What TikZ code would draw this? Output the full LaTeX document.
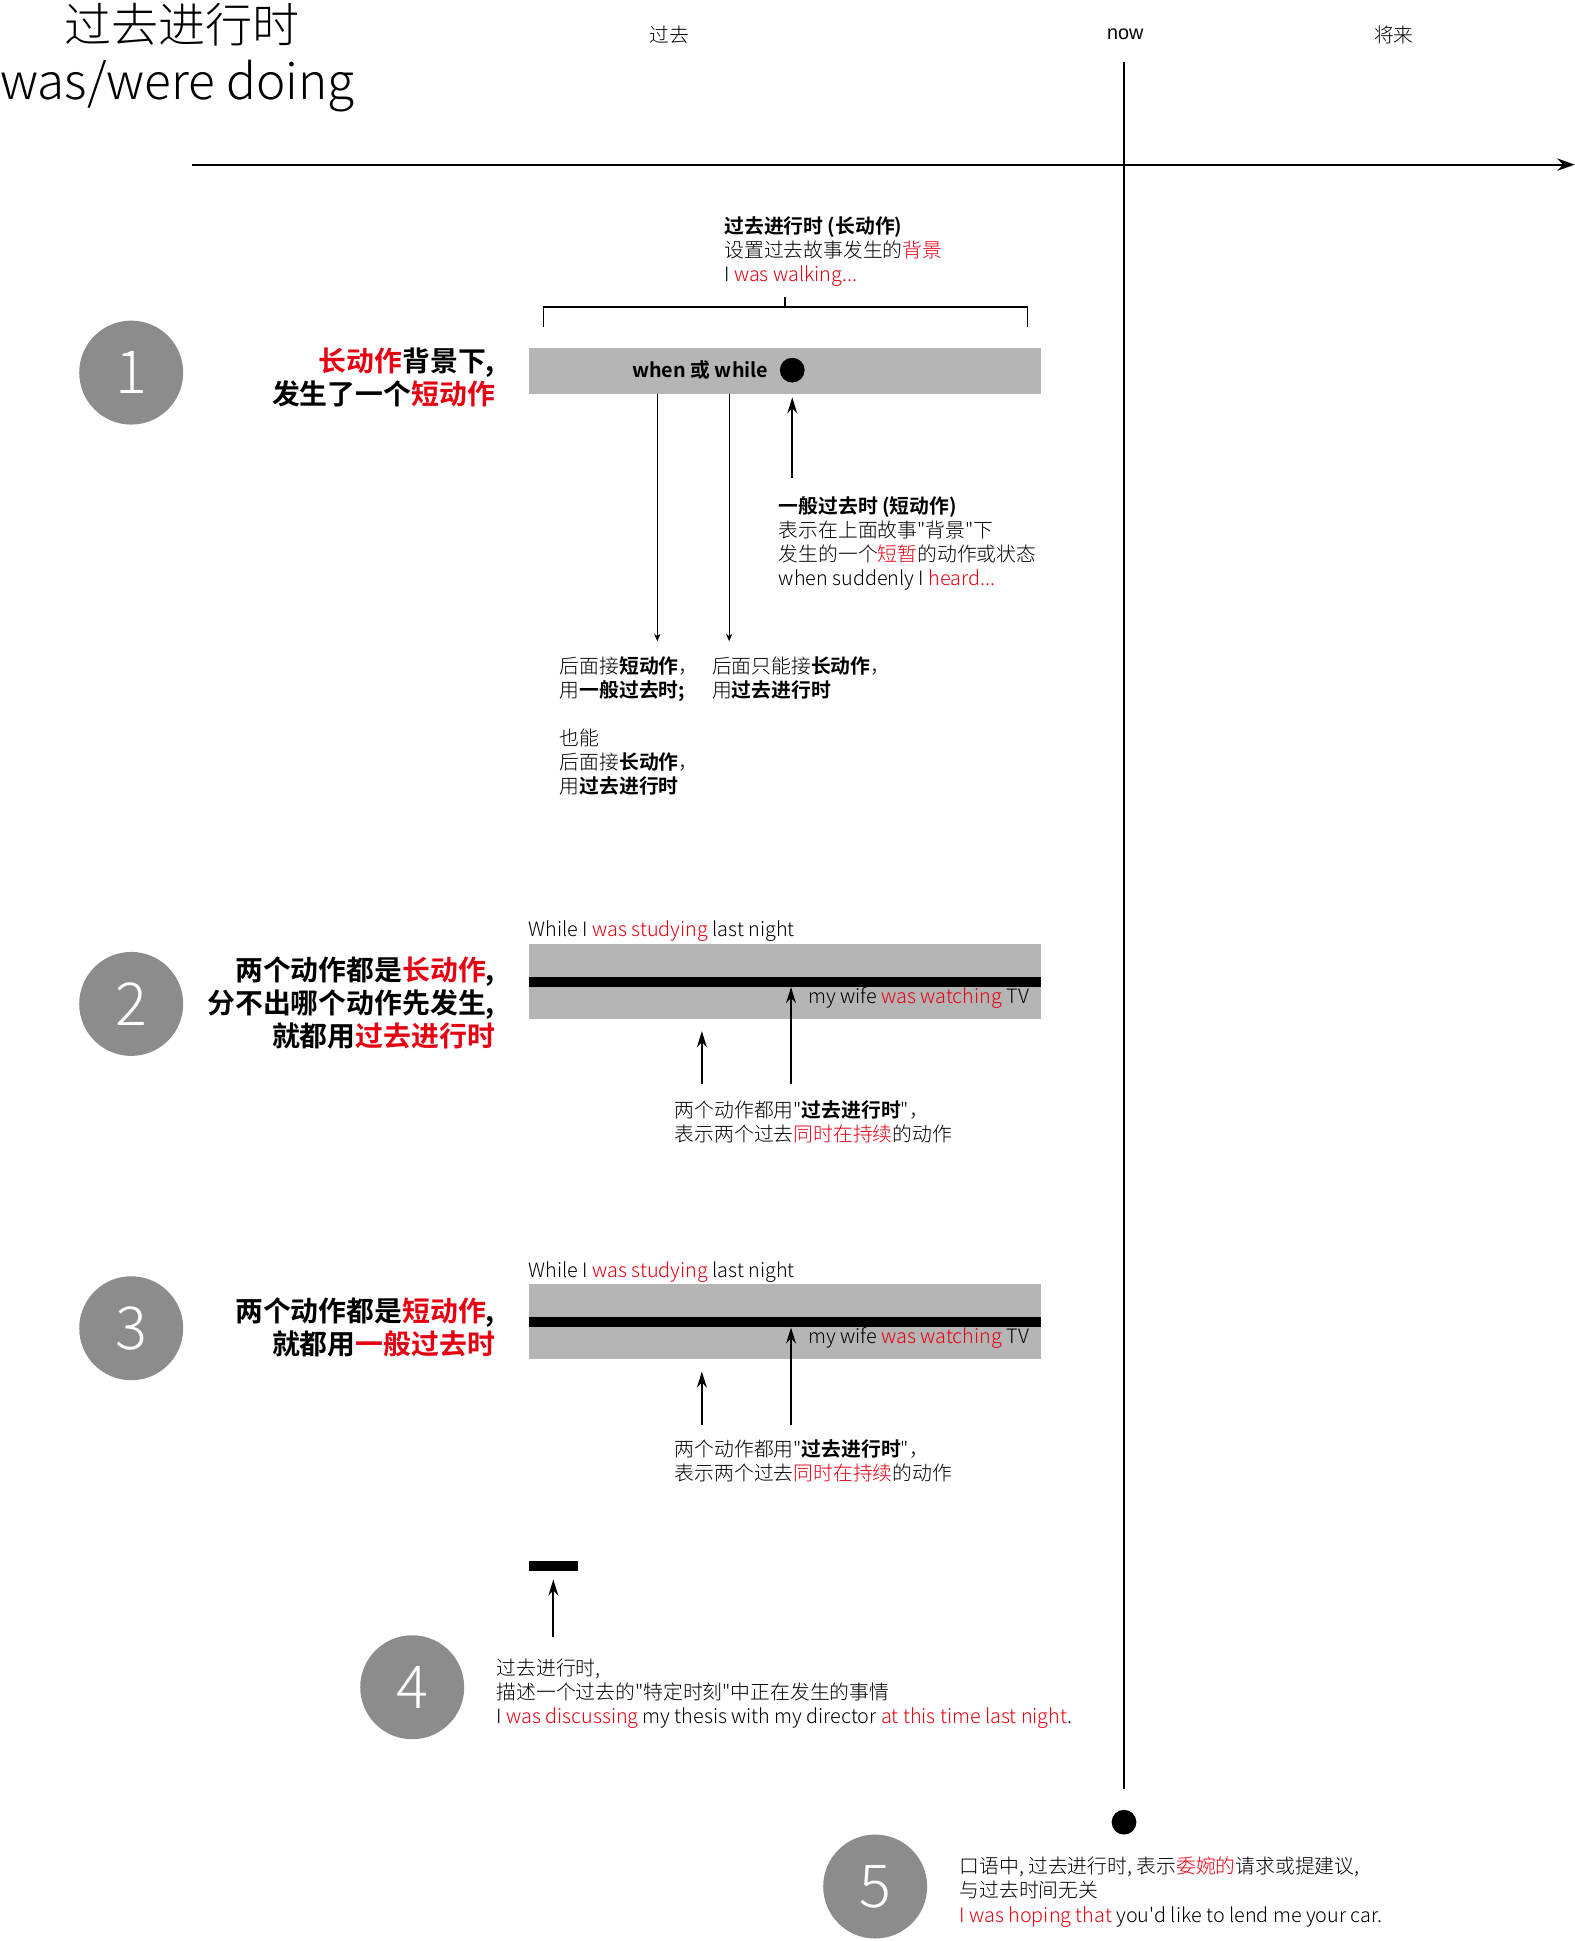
\documentclass[tikz,border=0pt]{standalone}
\usepackage{fontspec}
\IfFontExistsTF{Noto Sans CJK SC Light}{\setmainfont{Noto Sans CJK SC Light}[BoldFont={Noto Sans CJK SC Bold}]\newfontfamily\plainf{Noto Sans CJK SC Light}}{\setmainfont{Noto Sans CJK SC}\newfontfamily\plainf{Noto Sans CJK SC}}
\newfontfamily\arialf{Liberation Sans}
\usetikzlibrary{arrows.meta,positioning}
\definecolor{hot}{HTML}{E60012}
\definecolor{barg}{HTML}{B4B5B4}
\definecolor{dotg}{HTML}{8C8C8C}
\newcommand{\hl}[1]{\textcolor{hot}{#1}}
\newcommand{\fs}[2]{\fontsize{#1}{#2}\selectfont}
\newcommand{\dq}{{\plainf\symbol{34}}}
\newcommand{\sq}{{\plainf\symbol{39}}}
\tikzset{
  txt/.style={inner sep=0pt, align=left, anchor=north west, font=\fs{16}{19.5}},
  head/.style={inner sep=0pt, align=right, anchor=north east, font=\fs{22.5}{26.5}\bfseries},
  num/.style={circle, fill=dotg, minimum size=84pt, inner sep=0pt, text=white, font=\fs{48}{48}},
  bar/.style={fill=barg, minimum width=414pt, inner sep=0pt, anchor=north west},
  band/.style={fill=black, inner sep=0pt, anchor=north west, minimum height=8pt},
  dotb/.style={circle, fill=black, minimum size=20pt, inner sep=0pt},
  up/.style={line width=1.4pt, -{Stealth[length=13pt,width=8pt]}},
  down/.style={line width=0.6pt, -{Stealth[length=6pt,width=5pt]}},
}
\begin{document}
\begin{tikzpicture}[x=1pt,y=-1pt]
\useasboundingbox (0,0) rectangle (1272,1568);
\node[inner sep=0pt, anchor=north, font=\fs{38}{38}] (title) at (147,2) {过去进行时};
\node[inner sep=0pt, anchor=base west, font=\fs{40}{40}] (sub) at (0,80) {was/were doing};
\node[font=\fs{16}{16}] (past) at (541,28) {过去}; \node[font=\fs{16}{16}\arialf] (now) at (909,28) {now}; \node[font=\fs{16}{16}] (fut) at (1126,28) {将来};
\coordinate (ax0) at (155,133); \coordinate (ax1) at (1272,133); \draw[line width=1.4pt, -{Stealth[length=14pt,width=10pt]}] (ax0) -- (ax1);
\coordinate (nowtop) at (908,50); \coordinate (nowbot) at (908,1445); \draw[line width=1.4pt] (nowtop) -- (nowbot);
\node[dotb] (dot5) at (908,1472) {};
% 1
\node[num] (n1) at (106,301) {1};
\node[head] (h1) at (400,281) {\hl{长动作}背景下,\\发生了一个\hl{短动作}};
\node[txt] (t1) at (585,175) {\textbf{过去进行时 (长动作)}\\设置过去故事发生的\hl{背景}\\I \hl{was walking...}};
\coordinate (bl) at (439,264); \coordinate (bm) at (634,248); \coordinate (br) at (830,264);
\draw[line width=1.1pt] (bl) |- (bm) -| (br); \draw[line width=1.1pt] (bm) -- ++(0,-8);
\node[bar, minimum height=37pt] (bar1) at (427,281) {};
\node[dotb] (dot1) at (640,299) {};
\node[inner sep=0pt, anchor=east, font=\fs{16}{16}\bfseries] (ww) at (621,299) {when 或 while};
\coordinate (a1) at (640,386); \coordinate (a1t) at (640,321); \draw[up] (a1) -- (a1t);
\node[txt] (t2) at (629,401) {\textbf{一般过去时 (短动作)}\\表示在上面故事\dq 背景\dq 下\\发生的一个\hl{短暂}的动作或状态\\when suddenly I \hl{heard...}};
\coordinate (d1) at (531,518); \coordinate (d2) at (589,518);
\draw[down] (bar1.south -| d1) -- (d1); \draw[down] (bar1.south -| d2) -- (d2);
\node[txt] (t3) at (452,530) {后面接\textbf{短动作}，\\用\textbf{一般过去时;}\\[19.5pt]也能\\后面接\textbf{长动作}，\\用\textbf{过去进行时}};
\node[txt] (t4) at (575,530) {后面只能接\textbf{长动作}，\\用\textbf{过去进行时}};
% 2
\node[num] (n2) at (106,811) {2};
\node[head] (h2) at (400,773) {两个动作都是\hl{长动作},\\分不出哪个动作先发生,\\就都用\hl{过去进行时}};
\node[txt] (w2) at (427,744) {While I \hl{was studying} last night};
\node[bar, minimum height=61pt] (bar2) at (427,762) {};
\node[band, minimum width=414pt] (band2) at (427,789) {};
\node[inner sep=0pt, anchor=west, font=\fs{16}{16}] (tv2) at (653,806) {my wife \hl{was watching} TV};
\coordinate (a2) at (639,876); \draw[up] (a2) -- (a2 |- band2.south);
\coordinate (b2) at (567,876); \coordinate (b2t) at (567,833); \draw[up] (b2) -- (b2t);
\node[txt] (c2) at (545,889) {两个动作都用\dq\textbf{过去进行时}\dq，\\表示两个过去\hl{同时在持续}的动作};
% 3
\node[num] (n3) at (106,1073) {3};
\node[head] (h3) at (400,1048) {两个动作都是\hl{短动作},\\就都用\hl{一般过去时}};
\node[txt] (w3) at (427,1019) {While I \hl{was studying} last night};
\node[bar, minimum height=61pt] (bar3) at (427,1037) {};
\node[band, minimum width=414pt] (band3) at (427,1064) {};
\node[inner sep=0pt, anchor=west, font=\fs{16}{16}] (tv3) at (653,1081) {my wife \hl{was watching} TV};
\coordinate (a3) at (639,1151); \draw[up] (a3) -- (a3 |- band3.south);
\coordinate (b3) at (567,1151); \coordinate (b3t) at (567,1108); \draw[up] (b3) -- (b3t);
\node[txt] (c3) at (545,1163) {两个动作都用\dq\textbf{过去进行时}\dq，\\表示两个过去\hl{同时在持续}的动作};
% 4
\node[band, minimum width=40pt] (blk4) at (427,1261) {};
\coordinate (a4) at (447,1322); \coordinate (a4t) at (447,1276); \draw[up] (a4) -- (a4t);
\node[num] (n4) at (333,1363) {4};
\node[txt] (t5) at (401,1340) {过去进行时,\\描述一个过去的\dq 特定时刻\dq 中正在发生的事情\\I \hl{was discussing} my thesis with my director \hl{at this time last night}.};
% 5
\node[num] (n5) at (707,1524) {5};
\node[txt] (t6) at (775,1500) {口语中, 过去进行时, 表示\hl{委婉的}请求或提建议,\\与过去时间无关\\\hl{I was hoping that} you\sq d like to lend me your car.};
\end{tikzpicture}
\end{document}
